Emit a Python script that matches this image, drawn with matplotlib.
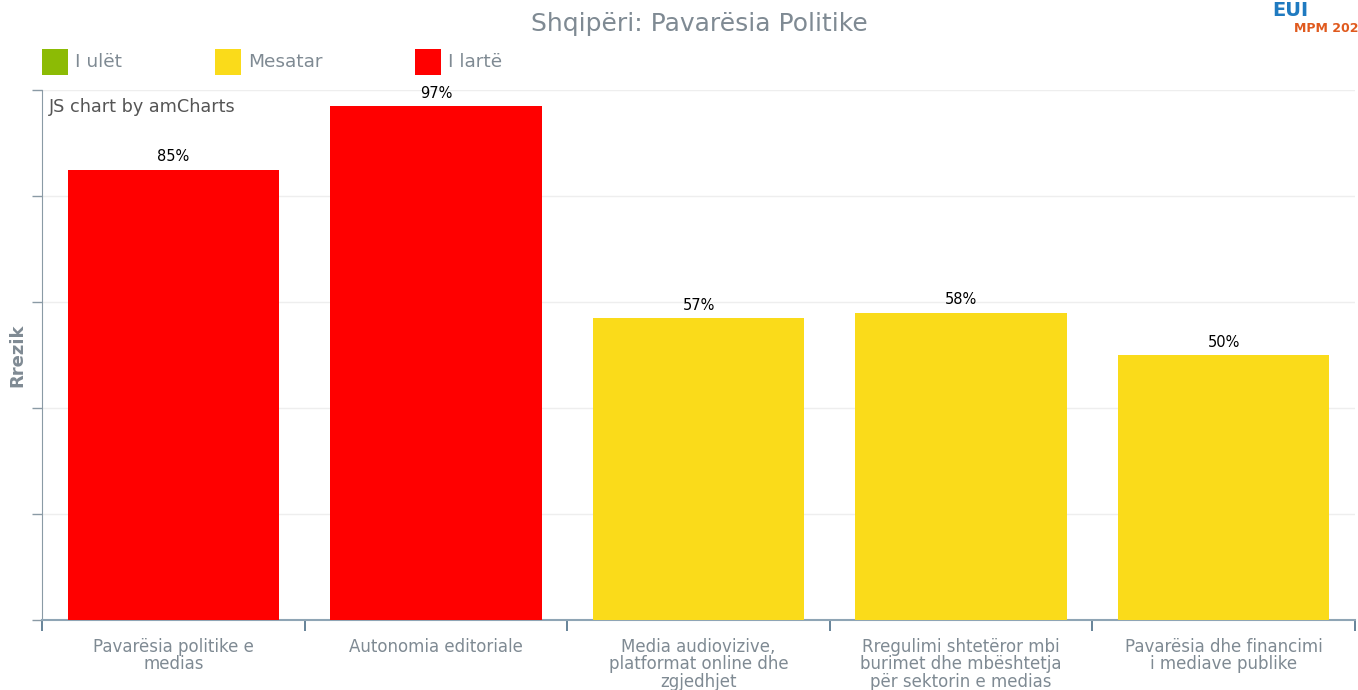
import matplotlib
matplotlib.use("Agg")
import matplotlib.pyplot as plt
from matplotlib.patches import Rectangle

categories = [
    "Pavarësia politike e\nmedias",
    "Autonomia editoriale",
    "Media audiovizive,\nplatformat online dhe\nzgjedhjet",
    "Rregulimi shtetëror mbi\nburimet dhe mbështetja\npër sektorin e medias",
    "Pavarësia dhe financimi\ni mediave publike",
]
values = [85, 97, 57, 58, 50]
risk_levels = ["I lartë", "I lartë", "Mesatar", "Mesatar", "Mesatar"]
legend_labels = ["I ulët", "Mesatar", "I lartë"]
level_colors = {"I ulët": "#8cbb05", "Mesatar": "#fadb1a", "I lartë": "#ff0000"}

GREY = "#7f8a93"

fig = plt.figure(figsize=(13.58, 6.9), dpi=100)
ax = fig.add_axes([42 / 1358, 1 - 620 / 690, (1355 - 42) / 1358, (620 - 90) / 690])

x = list(range(len(categories)))
cols = [level_colors[r] for r in risk_levels]
ax.bar(x, values, width=0.805, color=cols, zorder=3)
for xi, v in zip(x, values):
    ax.text(xi, v + 1.0, f"{v}%", ha="center", va="bottom", fontsize=10.5, color="#000000", zorder=4)

ax.set_xlim(-0.5, len(categories) - 0.5)
ax.set_ylim(0, 100)
ax.set_yticks([0, 20, 40, 60, 80, 100])
ax.set_yticklabels([])
ax.yaxis.grid(True, color="#eeeeee", linewidth=1, zorder=0)
ax.tick_params(axis="y", length=7, color="#8a9aa5", width=1)

ax.set_xticks([i - 0.5 for i in range(len(categories) + 1)], minor=False)
ax.set_xticklabels([])
ax.tick_params(axis="x", which="major", length=8, color="#4d6e87", width=1.2, direction="out")
ax.set_xticks(x, minor=True)
ax.set_xticklabels(categories, minor=True, fontsize=12, color=GREY, linespacing=0.95)
ax.tick_params(axis="x", which="minor", length=0, pad=13)

for s in ["top", "right"]:
    ax.spines[s].set_visible(False)
ax.spines["left"].set_color("#8a9aa5")
ax.spines["bottom"].set_color("#8fa5b5")
ax.spines["bottom"].set_linewidth(1.5)

fig.text(17 / 1358, 1 - 355 / 690, "Rrezik", rotation=90, ha="center", va="center",
         fontsize=13, color=GREY, fontweight="bold")

ax.text(0.005, 0.985, "JS chart by amCharts", transform=ax.transAxes, ha="left", va="top",
        fontsize=12.7, color="#555555")

fig.text(699 / 1358, 1 - 24 / 690, "Shqipëri: Pavarësia Politike", ha="center", va="center",
         fontsize=18, color=GREY)

# legend
leg_x = [42, 215, 415]
for lx, lab in zip(leg_x, legend_labels):
    fig.patches.append(Rectangle((lx / 1358, 1 - 75 / 690), 26 / 1358, 26 / 690,
                                 transform=fig.transFigure, facecolor=level_colors[lab],
                                 edgecolor="none"))
    fig.text((lx + 33) / 1358, 1 - 62 / 690, lab, ha="left", va="center", fontsize=13.3, color=GREY)

# logo (partially visible in the reference)
fig.text(1272 / 1358, 1 - 11 / 690, "EUI", ha="left", va="center", fontsize=14,
         fontweight="bold", color="#1f7ac0")
fig.text(1294 / 1358, 1 - 28 / 690, "MPM 202", ha="left", va="center", fontsize=9,
         fontweight="bold", color="#e05a1e")

fig.savefig("out.png", dpi=100)
